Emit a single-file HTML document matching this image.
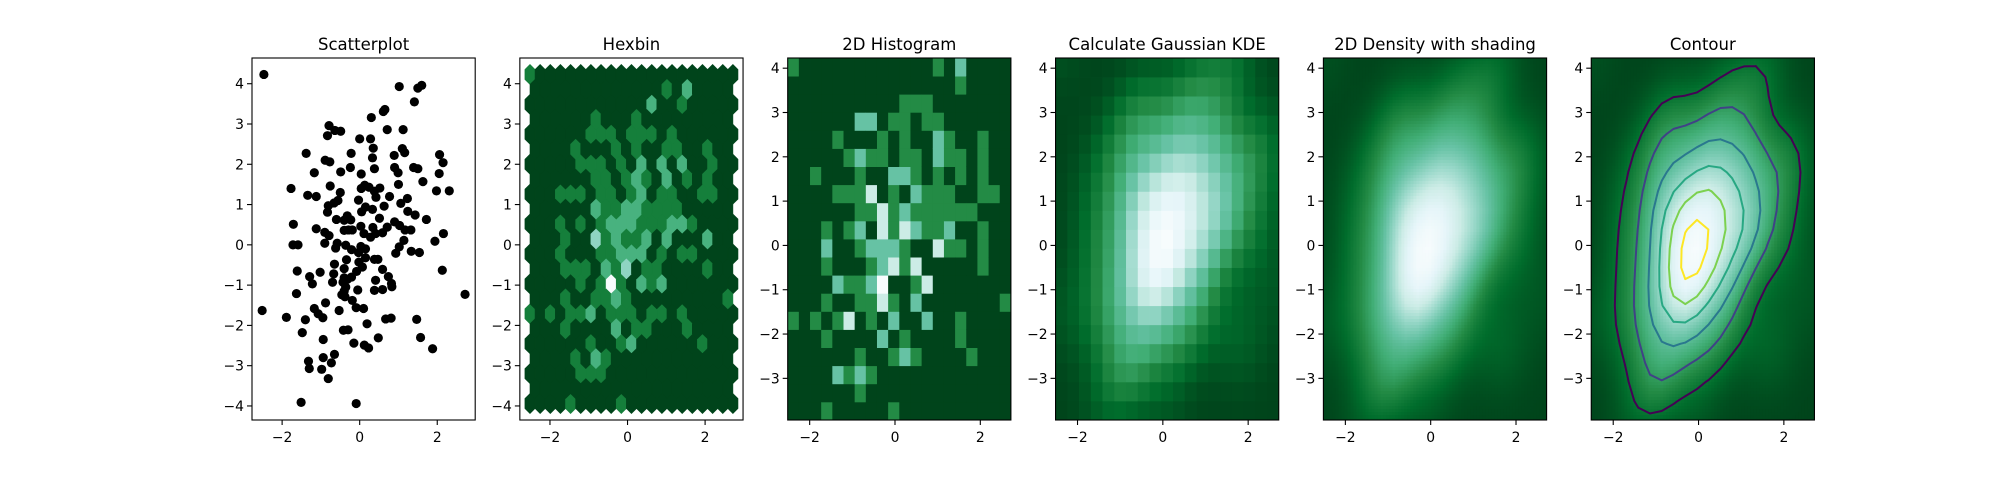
<!DOCTYPE html>
<html><head><meta charset="utf-8"><title>2D density charts</title>
<style>
html,body{margin:0;padding:0;background:#fff;}
svg{display:block;font-family:"DejaVu Sans","Liberation Sans",sans-serif;}
</style></head>
<body>
<svg id="fig" width="2016" height="480" viewBox="0 0 2016 480" xmlns="http://www.w3.org/2000/svg">
<rect x="0" y="0" width="2016" height="480" fill="#fff"/>
</svg>
<script>
const xs = [-2.47,1.02,1.50,1.60,1.41,0.61,0.65,0.30,-0.79,-0.64,-0.49,-0.83,0.71,1.12,0,0.28,0.35,0.33,1.10,1.16,-1.38,-0.22,0.89,-0.89,-0.77,2.06,2.15,-0.24,-0.49,-1.17,0.04,0.38,0.90,0.99,1.39,1.50,2.05,1.63,-1.77,-0.76,0.13,0.04,0.24,0.52,0.38,0.42,1.00,1.98,2.31,-0.50,-1.34,-1.12,0.77,1.23,-0.56,-0.66,-0.81,-0.83,-0.03,1.06,0.15,0.33,0.05,0.63,1.24,1.43,1.72,-0.32,-0.40,-0.60,-0.23,0.51,-1.71,0.90,1.03,1.32,1.17,0.71,0.03,0.34,0.11,0.28,-1.12,-0.40,-0.29,-0.19,0.41,0.59,-0.90,-0.79,2.16,-1.72,-1.59,-0.90,-0.58,-0.62,-0.36,-0.21,0.03,0.15,-0.03,1.94,1.14,1.02,0.93,1.33,1.54,0.15,0.38,0.47,-0.65,-0.02,-0.34,-0.40,0.07,-1.61,-1.02,0.59,2.13,-0.67,-0.40,-0.21,-0.08,-1.29,-1.22,-0.70,-0.43,-0.31,-0.36,0.41,0.82,0.74,0.83,-0.40,-0.46,-0.38,-0.05,0.38,0.59,-1.63,2.717,-0.19,-0.88,-2.515,-0.09,0.10,-0.53,-1.17,-1.07,-0.95,-1.89,-1.40,0.67,0.81,1.47,0.19,-1.48,-0.42,-0.30,0.48,1.57,-0.94,-0.15,0.12,0.23,1.88,-0.65,-0.94,-0.73,-1.32,-1.30,-0.98,-0.81,-1.51,-0.09];
const ys = [4.23,3.93,3.89,3.96,3.55,3.31,3.36,3.16,2.96,2.84,2.82,2.71,2.86,2.86,2.63,2.63,2.40,2.16,2.39,2.29,2.27,2.27,2.22,2.10,2.06,2.24,2.04,1.92,1.81,1.79,1.76,1.89,1.92,1.79,1.92,1.89,1.77,1.57,1.40,1.46,1.48,1.40,1.43,1.41,1.33,1.18,1.50,1.34,1.34,1.30,1.23,1.20,1.20,1.15,1.10,1.04,0.97,0.81,1.11,1.03,0.94,0.88,0.82,0.96,0.83,0.74,0.63,0.72,0.61,0.63,0.62,0.66,0.51,0.57,0.48,0.37,0.37,0.44,0.46,0.43,0.28,0.19,0.40,0.36,0.37,0.37,0.28,0.30,0.31,0.23,0.28,0,0,0.04,0.04,-0.08,-0.01,-0.12,-0.04,-0.10,-0.19,0.09,0.11,-0.05,-0.21,-0.16,-0.19,-0.32,-0.36,-0.36,-0.48,-0.43,-0.37,-0.59,-0.55,-0.65,-0.68,-0.61,-0.63,-0.72,-0.82,-0.80,-0.66,-0.79,-0.97,-0.93,-0.93,-0.85,-1.05,-0.88,-0.96,-0.79,-1.04,-1.15,-1.24,-1.29,-1.12,-1.13,-1.11,-1.21,-1.23,-1.38,-1.44,-1.63,-1.56,-1.58,-1.63,-1.58,-1.71,-1.81,-1.80,-1.86,-1.84,-1.82,-1.85,-1.96,-2.18,-2.12,-2.11,-2.31,-2.30,-2.35,-2.44,-2.49,-2.56,-2.58,-2.72,-2.80,-2.93,-2.89,-3.07,-3.09,-3.32,-3.91,-3.94];
const titles = ["Scatterplot","Hexbin","2D Histogram","Calculate Gaussian KDE","2D Density with shading","Contour"];
const xTicks = [-2,0,2];
const yTicksWide = [-4,-3,-2,-1,0,1,2,3,4];
const yTicksTight = [-3,-2,-1,0,1,2,3,4];
const nbins = 20;
const contourFractions = [0.155,0.31,0.465,0.62,0.775,0.93];

const NS = "http://www.w3.org/2000/svg";
const fig = document.getElementById('fig');
function mk(tag, attrs, parent){const e=document.createElementNS(NS,tag);for(const k in attrs)e.setAttribute(k,attrs[k]);(parent||fig).appendChild(e);return e;}

const BUGN = ["#f7fcfd","#e5f5f9","#ccece6","#99d8c9","#66c2a4","#41ae76","#238b45","#006d2c","#00441b"];
const VIR = ["#440154","#482878","#3e4989","#31688e","#26828e","#1f9e89","#35b779","#6ece58","#b5de2b","#fde725"];
function hex2rgb(h){return [parseInt(h.substr(1,2),16),parseInt(h.substr(3,2),16),parseInt(h.substr(5,2),16)];}
function interp(stops,t){t=Math.max(0,Math.min(1,t));const n=stops.length-1;const p=t*n;const i=Math.min(n-1,Math.floor(p));const f=p-i;const a=hex2rgb(stops[i]),b=hex2rgb(stops[i+1]);return 'rgb('+a.map((v,k)=>Math.round(v+(b[k]-v)*f)).join(',')+')';}
function cmap(t){return interp(BUGN,1-t);}
function viridis(t){return interp(VIR,t);}

const n = xs.length;
const xmin=Math.min(...xs), xmax=Math.max(...xs), ymin=Math.min(...ys), ymax=Math.max(...ys);
const dx=xmax-xmin, dy=ymax-ymin;

const T=58, B=420, H=B-T, W=223.2;
const L=[0,1,2,3,4,5].map(k=>252+k*267.85);
const ranges=[
 [xmin-0.05*dx,xmax+0.05*dx,ymin-0.05*dy,ymax+0.05*dy],
 [xmin-0.05*dx,xmax+0.05*dx,ymin-0.05*dy,ymax+0.05*dy],
 [xmin,xmax,ymin,ymax],[xmin,xmax,ymin,ymax],[xmin,xmax,ymin,ymax],[xmin,xmax,ymin,ymax]];
function X(k,v){const r=ranges[k];return L[k]+(v-r[0])/(r[1]-r[0])*W;}
function Y(k,v){const r=ranges[k];return T+(r[3]-v)/(r[3]-r[2])*H;}

const defs=mk('defs',{});
const groups=[];
for(let k=0;k<6;k++){
  const cp=mk('clipPath',{id:'clip'+k},defs);
  mk('rect',{x:L[k],y:T,width:W,height:H},cp);
  const g=mk('g',{'clip-path':'url(#clip'+k+')'});
  
  
  groups.push(g);
}

for(let i=0;i<n;i++){
  const c=mk('circle',{cx:X(0,xs[i]).toFixed(2),cy:Y(0,ys[i]).toFixed(2),r:4.6,fill:'#000'},groups[0]);
  
  
}

(function(){
  const nx=nbins, ny=Math.floor(nbins/Math.sqrt(3));
  const sx=dx/nx, sy=dy/ny;
  const a1=[],a2=[];
  for(let i=0;i<=nx;i++){a1.push(new Array(ny+1).fill(0));}
  for(let i=0;i<nx;i++){a2.push(new Array(ny).fill(0));}
  for(let p=0;p<n;p++){
    const Xv=(xs[p]-xmin)/sx, Yv=(ys[p]-ymin)/sy;
    const ix1=Math.round(Xv), iy1=Math.round(Yv), ix2=Math.floor(Xv), iy2=Math.floor(Yv);
    const d1=(Xv-ix1)**2+3*(Yv-iy1)**2, d2=(Xv-ix2-0.5)**2+3*(Yv-iy2-0.5)**2;
    if(d1<d2) a1[ix1][iy1]++; else a2[Math.min(ix2,nx-1)][Math.min(iy2,ny-1)]++;
  }
  let mx=1;a1.forEach(r=>r.forEach(v=>mx=Math.max(mx,v)));a2.forEach(r=>r.forEach(v=>mx=Math.max(mx,v)));
  const poly=[[.5,-.5],[.5,.5],[0,1],[-.5,.5],[-.5,-.5],[0,-1]];
  function hexAt(cx,cy,v){
    const pts=poly.map(q=>X(1,cx+q[0]*sx).toFixed(2)+','+Y(1,cy+q[1]*sy/3).toFixed(2)).join(' ');
    const col=cmap(v/mx);
    const h=mk('polygon',{points:pts,fill:col,stroke:col,'stroke-width':0.6},groups[1]);
    
    
  }
  for(let i=0;i<=nx;i++)for(let j=0;j<=ny;j++)hexAt(xmin+i*sx,ymin+j*sy,a1[i][j]);
  for(let i=0;i<nx;i++)for(let j=0;j<ny;j++)hexAt(xmin+(i+.5)*sx,ymin+(j+.5)*sy,a2[i][j]);
})();

(function(){
  const cnt=[];for(let i=0;i<nbins;i++)cnt.push(new Array(nbins).fill(0));
  for(let p=0;p<n;p++){
    const i=Math.min(nbins-1,Math.floor((xs[p]-xmin)/dx*nbins));
    const j=Math.min(nbins-1,Math.floor((ys[p]-ymin)/dy*nbins));
    cnt[i][j]++;
  }
  let mx=1;cnt.forEach(r=>r.forEach(v=>mx=Math.max(mx,v)));
  for(let i=0;i<nbins;i++)for(let j=0;j<nbins;j++){
    const x0=X(2,xmin+i*dx/nbins),x1=X(2,xmin+(i+1)*dx/nbins),y0=Y(2,ymin+(j+1)*dy/nbins),y1=Y(2,ymin+j*dy/nbins);
    const r=mk('rect',{x:x0.toFixed(2),y:y0.toFixed(2),width:(x1-x0+0.4).toFixed(2),height:(y1-y0+0.4).toFixed(2),fill:cmap(cnt[i][j]/mx)},groups[2]);
    
    
  }
})();

const mxm=xs.reduce((a,b)=>a+b,0)/n, mym=ys.reduce((a,b)=>a+b,0)/n;
let cxx=0,cyy=0,cxy=0;
for(let p=0;p<n;p++){cxx+=(xs[p]-mxm)**2;cyy+=(ys[p]-mym)**2;cxy+=(xs[p]-mxm)*(ys[p]-mym);}
cxx/=(n-1);cyy/=(n-1);cxy/=(n-1);
const fac=Math.pow(n,-1/6), f2=fac*fac;
const kxx=cxx*f2,kyy=cyy*f2,kxy=cxy*f2, det=kxx*kyy-kxy*kxy;
const ixx=kyy/det, iyy=kxx/det, ixy=-kxy/det, norm=1/(2*Math.PI*Math.sqrt(det));
function kde(x,y){let s=0;for(let p=0;p<n;p++){const a=x-xs[p],b=y-ys[p];s+=Math.exp(-0.5*(a*a*ixx+2*a*b*ixy+b*b*iyy));}return s*norm/n;}
const xi=[],yi=[];for(let i=0;i<nbins;i++){xi.push(xmin+i*dx/(nbins-1));yi.push(ymin+i*dy/(nbins-1));}
const Z=[];for(let i=0;i<nbins;i++){Z.push([]);for(let j=0;j<nbins;j++)Z[i].push(kde(xi[i],yi[j]));}

(function(){
  let zmn=Infinity,zmx=-Infinity;
  for(let i=0;i<nbins-1;i++)for(let j=0;j<nbins-1;j++){zmn=Math.min(zmn,Z[i][j]);zmx=Math.max(zmx,Z[i][j]);}
  for(let i=0;i<nbins-1;i++)for(let j=0;j<nbins-1;j++){
    const x0=X(3,xi[i]),x1=X(3,xi[i+1]),y0=Y(3,yi[j+1]),y1=Y(3,yi[j]);
    const r=mk('rect',{x:x0.toFixed(2),y:y0.toFixed(2),width:(x1-x0+0.4).toFixed(2),height:(y1-y0+0.4).toFixed(2),fill:cmap((Z[i][j]-zmn)/(zmx-zmn))},groups[3]);
    
    
  }
})();

let gmn=Infinity,gmx=-Infinity;Z.forEach(r=>r.forEach(v=>{gmn=Math.min(gmn,v);gmx=Math.max(gmx,v);}));
function bil(x,y){
  let fx=(x-xmin)/dx*(nbins-1), fy=(y-ymin)/dy*(nbins-1);
  fx=Math.max(0,Math.min(nbins-1.0001,fx));fy=Math.max(0,Math.min(nbins-1.0001,fy));
  const i=Math.floor(fx),j=Math.floor(fy),u=fx-i,v=fy-j;
  return Z[i][j]*(1-u)*(1-v)+Z[i+1][j]*u*(1-v)+Z[i][j+1]*(1-u)*v+Z[i+1][j+1]*u*v;
}
[4,5].forEach(k=>{
  const step=3;
  for(let px=0;px<W;px+=step)for(let py=0;py<H;py+=step){
    const cx=px+step/2, cy=py+step/2;
    const xv=xmin+cx/W*dx, yv=ymax-cy/H*dy;
    const r=mk('rect',{x:(L[k]+px).toFixed(1),y:(T+py).toFixed(1),width:step+0.3,height:step+0.3,fill:cmap((bil(xv,yv)-gmn)/(gmx-gmn))},groups[k]);
    
    
  }
});

(function(){
  const levels=contourFractions.map(f=>gmx*f);
  levels.forEach((lv,li)=>{
    const col=viridis(levels.length>1?li/(levels.length-1):0);
    let d='';
    for(let i=0;i<nbins-1;i++)for(let j=0;j<nbins-1;j++){
      const c=[[xi[i],yi[j],Z[i][j]],[xi[i+1],yi[j],Z[i+1][j]],[xi[i+1],yi[j+1],Z[i+1][j+1]],[xi[i],yi[j+1],Z[i][j+1]]];
      const pts=[];
      for(let e=0;e<4;e++){const a=c[e],b=c[(e+1)%4];
        if((a[2]<lv)!==(b[2]<lv)){const t=(lv-a[2])/(b[2]-a[2]);pts.push([a[0]+t*(b[0]-a[0]),a[1]+t*(b[1]-a[1])]);}}
      for(let q=0;q+1<pts.length;q+=2){
        d+='M'+X(5,pts[q][0]).toFixed(2)+' '+Y(5,pts[q][1]).toFixed(2)+'L'+X(5,pts[q+1][0]).toFixed(2)+' '+Y(5,pts[q+1][1]).toFixed(2);
      }
    }
    const p=mk('path',{d:d,stroke:col,'stroke-width':2,fill:'none','stroke-linecap':'round'},groups[5]);
    
    
  });
})();

for(let k=0;k<6;k++){
  const fr=mk('rect',{x:L[k],y:T,width:W,height:H,fill:'none',stroke:'#000','stroke-width':1.1});
  
  
  const tt=mk('text',{x:L[k]+W/2,y:T-8,'text-anchor':'middle','font-size':'16.5px',fill:'#000'});
  tt.textContent=titles[k];
  
  
  xTicks.forEach(v=>{
    const x=X(k,v);
    const tm=mk('line',{x1:x,x2:x,y1:B,y2:B+5,stroke:'#000','stroke-width':1.1});
    
    
    const tl=mk('text',{x:x,y:B+22,'text-anchor':'middle','font-size':'13.9px',fill:'#000'});
    tl.textContent=(v<0?'\u2212':'')+Math.abs(v);
    
    
  });
  (k<2?yTicksWide:yTicksTight).forEach(v=>{
    const y=Y(k,v);
    const tm=mk('line',{x1:L[k]-5,x2:L[k],y1:y,y2:y,stroke:'#000','stroke-width':1.1});
    
    
    const tl=mk('text',{x:L[k]-8,y:y+5,'text-anchor':'end','font-size':'13.9px',fill:'#000'});
    tl.textContent=(v<0?'\u2212':'')+Math.abs(v);
    
    
  });
}
</script>
</body></html>
